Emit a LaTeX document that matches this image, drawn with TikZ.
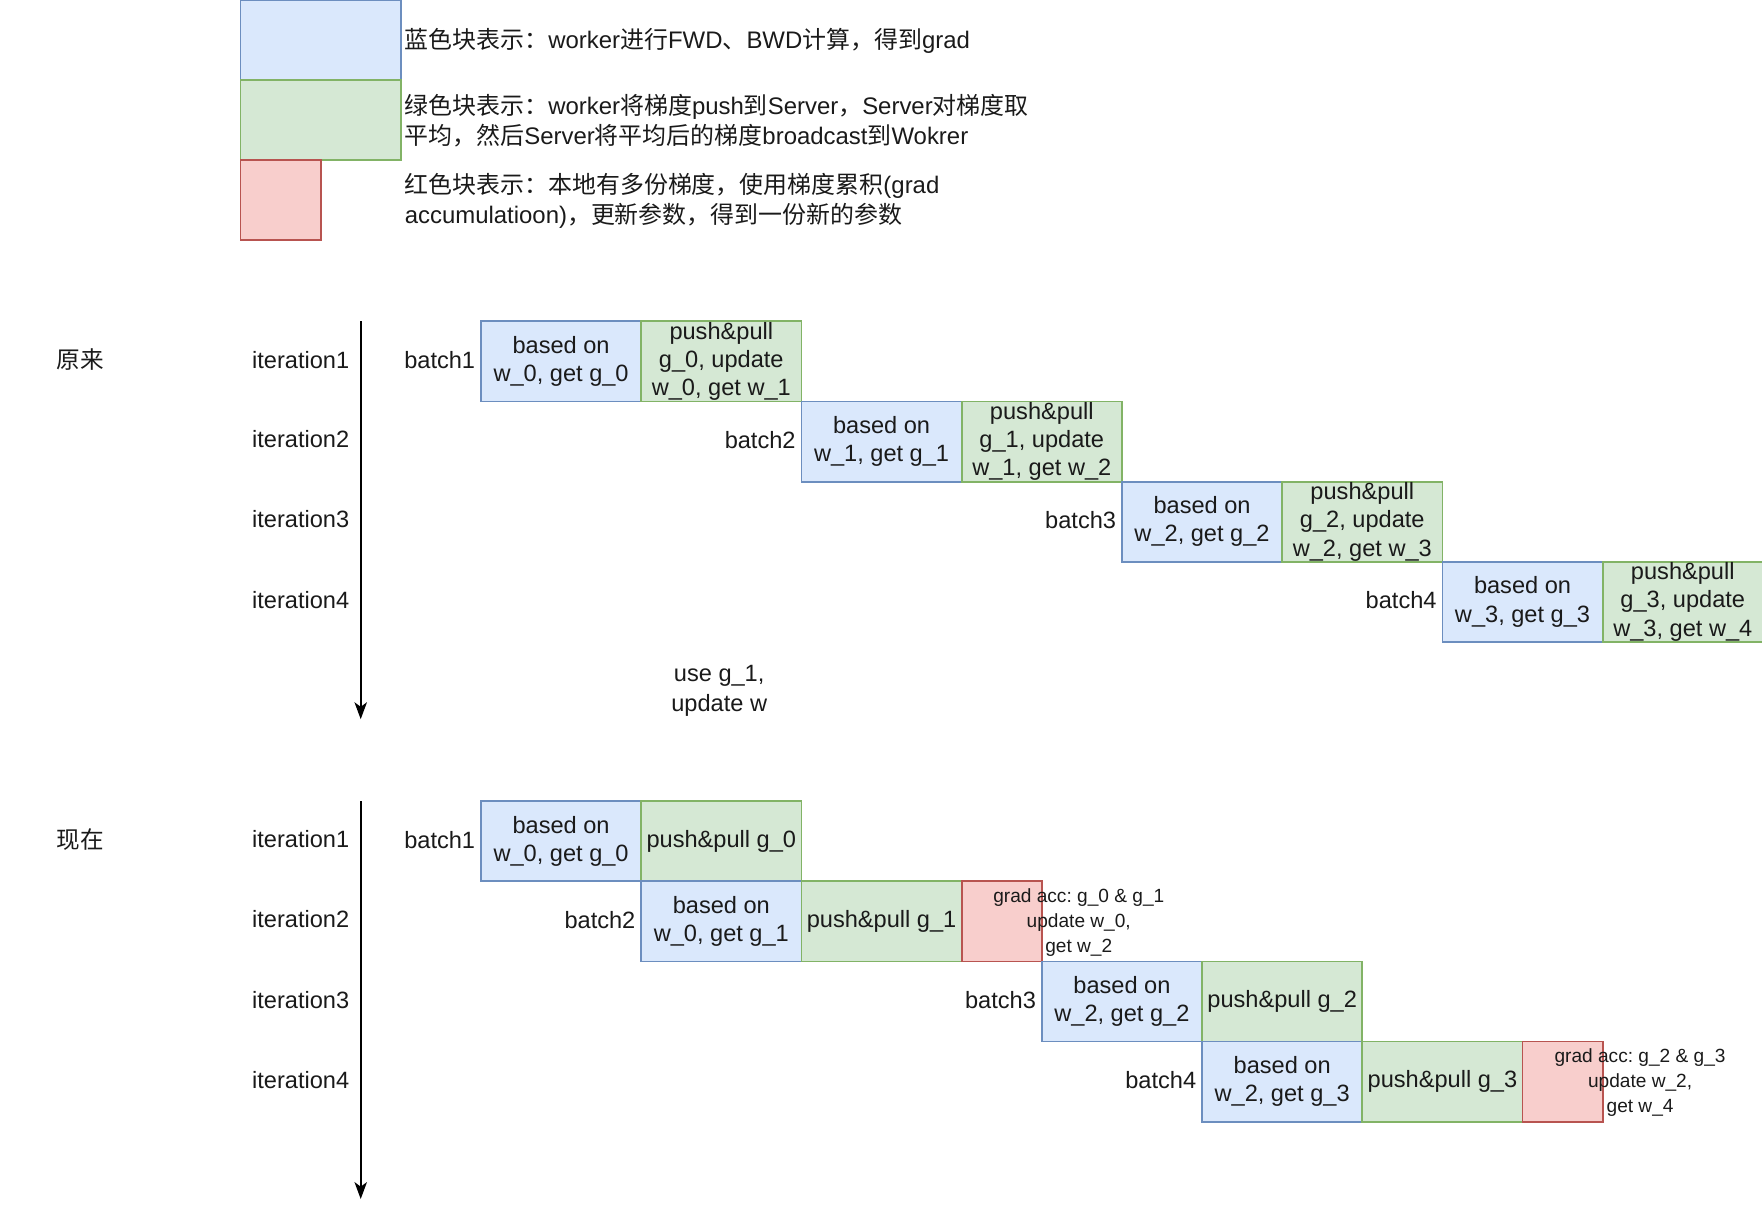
\documentclass[tikz,border=0pt]{standalone}
\usepackage{fontspec}
\setmainfont{Liberation Sans}
\newfontfamily\cjk{Noto Sans CJK SC}
\usetikzlibrary{arrows.meta}
\definecolor{bfill}{HTML}{DAE8FC}\definecolor{bdraw}{HTML}{6C8EBF}
\definecolor{gfill}{HTML}{D5E8D4}\definecolor{gdraw}{HTML}{82B366}
\definecolor{rfill}{HTML}{F8CECC}\definecolor{rdraw}{HTML}{B85450}
\definecolor{txt}{HTML}{1A1A1A}
\begin{document}
\frenchspacing
\begin{tikzpicture}[x=1pt,y=-1pt,
  every node/.style={text=txt},
  font=\fontsize{21}{25.2}\selectfont,
  box/.style={draw, line width=1.6pt, minimum width=142.6pt, minimum height=71.3pt,
    inner sep=0pt, outer sep=0pt, align=center, anchor=north west},
  bluebox/.style={box, fill=bfill, draw=bdraw},
  greenbox/.style={box, fill=gfill, draw=gdraw},
  redbox/.style={box, fill=rfill, draw=rdraw, minimum width=71.3pt},
  lbl/.style={inner sep=0pt, anchor=east},
  lefttext/.style={inner sep=0pt, anchor=west, align=left},
  legendtext/.style={lefttext, font=\fontsize{21.3}{27}\selectfont},
  small/.style={font=\fontsize{17}{22.5}\selectfont, align=center, inner sep=0pt},
  timeline/.style={line width=1.8pt, -{Stealth[length=15pt,width=11pt,inset=4pt]}}
]
\path[use as bounding box] (0,0) rectangle (1568,1084);

% legend
\node[bluebox] (lb) at (214,0) {};
\node[greenbox] (lg) at (214,71.3) {};
\node[redbox] (lr) at (214,142.6) {};
\node[legendtext] (lbt) at (360,36) {{\cjk 蓝色块表示：}worker{\cjk 进行}FWD{\cjk 、}BWD{\cjk 计算，得到}grad};
\node[legendtext] (lgt) at (360,107.5) {{\cjk 绿色块表示：}worker{\cjk 将梯度}push{\cjk 到}Server{\cjk ，}Server{\cjk 对梯度取}\\{\cjk 平均，然后}Server{\cjk 将平均后的梯度}broadcast{\cjk 到}Wokrer};
\node[legendtext] (lrt) at (360,178.5) {{\cjk 红色块表示：本地有多份梯度，使用梯度累积}(grad\\accumulatioon){\cjk ，更新参数，得到一份新的参数}};

% ---------- top: 原来 ----------
\node[lefttext] (yl) at (50,320) {\cjk 原来};
\node[lbl] (ti1) at (311,320) {iteration1};
\node[lbl] (ti2) at (311,391) {iteration2};
\node[lbl] (ti3) at (311,462) {iteration3};
\node[lbl] (ti4) at (311,534) {iteration4};
\coordinate (tas) at (321,286);
\coordinate (tae) at (321,640);
\draw[timeline] (tas) -- (tae);

\node[bluebox] (tb1) at (428,286) {based on\\w\_0, get g\_0};
\node[greenbox] (tg1) at (570.6,286) {push\&pull\\g\_0, update\\w\_0, get w\_1};
\node[bluebox] (tb2) at (713.2,357.3) {based on\\w\_1, get g\_1};
\node[greenbox] (tg2) at (855.8,357.3) {push\&pull\\g\_1, update\\w\_1, get w\_2};
\node[bluebox] (tb3) at (998.4,428.6) {based on\\w\_2, get g\_2};
\node[greenbox] (tg3) at (1141,428.6) {push\&pull\\g\_2, update\\w\_2, get w\_3};
\node[bluebox] (tb4) at (1283.6,499.9) {based on\\w\_3, get g\_3};
\node[greenbox] (tg4) at (1426.2,499.9) {push\&pull\\g\_3, update\\w\_3, get w\_4};

\node[lbl] (tbt1) at ([xshift=-5pt,yshift=1.5pt]tb1.west) {batch1};
\node[lbl] (tbt2) at ([xshift=-5pt,yshift=1.5pt]tb2.west) {batch2};
\node[lbl] (tbt3) at ([xshift=-5pt,yshift=1.5pt]tb3.west) {batch3};
\node[lbl] (tbt4) at ([xshift=-5pt,yshift=1.5pt]tb4.west) {batch4};

\node[align=center, inner sep=0pt, font=\fontsize{21}{26.5}\selectfont] (use) at (640,615) {use g\_1,\\update w};

% ---------- bottom: 现在 ----------
\node[lefttext] (xz) at (50,747) {\cjk 现在};
\node[lbl] (bi1) at (311,747) {iteration1};
\node[lbl] (bi2) at (311,818) {iteration2};
\node[lbl] (bi3) at (311,890) {iteration3};
\node[lbl] (bi4) at (311,961) {iteration4};
\coordinate (bas) at (321,713);
\coordinate (bae) at (321,1067);
\draw[timeline] (bas) -- (bae);

\node[bluebox] (bb1) at (428,713) {based on\\w\_0, get g\_0};
\node[greenbox] (bg1) at (570.6,713) {push\&pull g\_0};
\node[bluebox] (bb2) at (570.6,784.3) {based on\\w\_0, get g\_1};
\node[greenbox] (bg2) at (713.2,784.3) {push\&pull g\_1};
\node[redbox] (br2) at (855.8,784.3) {};
\node[bluebox] (bb3) at (927.1,855.6) {based on\\w\_2, get g\_2};
\node[greenbox] (bg3) at (1069.7,855.6) {push\&pull g\_2};
\node[bluebox] (bb4) at (1069.7,926.9) {based on\\w\_2, get g\_3};
\node[greenbox] (bg4) at (1212.3,926.9) {push\&pull g\_3};
\node[redbox] (br4) at (1354.9,926.9) {};

\node[small] (rt2) at (960,821) {grad acc: g\_0 \& g\_1\\update w\_0,\\get w\_2};
\node[small] (rt4) at (1459.5,963.5) {grad acc: g\_2 \& g\_3\\update w\_2,\\get w\_4};

\node[lbl] (bbt1) at ([xshift=-5pt,yshift=1.5pt]bb1.west) {batch1};
\node[lbl] (bbt2) at ([xshift=-5pt,yshift=1.5pt]bb2.west) {batch2};
\node[lbl] (bbt3) at ([xshift=-5pt,yshift=1.5pt]bb3.west) {batch3};
\node[lbl] (bbt4) at ([xshift=-5pt,yshift=1.5pt]bb4.west) {batch4};
\end{tikzpicture}
\end{document}
